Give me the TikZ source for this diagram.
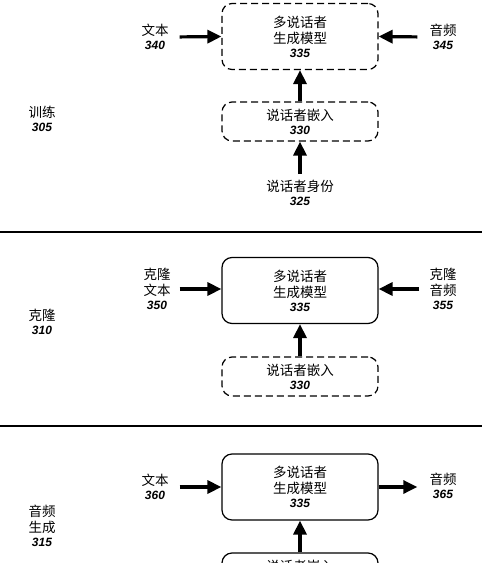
\documentclass[tikz,border=0pt]{standalone}
\usepackage{fontspec}
\setmainfont{Liberation Sans}
\newfontfamily\cjk{Noto Sans CJK SC}
\usetikzlibrary{arrows.meta}
\newcommand{\refnum}[1]{{\rmfamily\fontsize{12}{13}\selectfont\bfseries\itshape #1}}
\begin{document}
\begin{tikzpicture}[x=1pt,y=-1pt,
  font=\cjk\fontsize{13.5}{16}\selectfont,
  box/.style={draw,line width=1.2pt,rounded corners=10pt,minimum width=156pt,align=center,inner sep=2pt},
  model/.style={box,minimum height=66pt},
  emb/.style={box,minimum height=39pt},
  dashbox/.style={dash pattern=on 7pt off 4pt},
  lbl/.style={align=center,inner sep=3pt},
  arr/.style={line width=3.2pt,-{Triangle[length=14pt,width=13pt]}},
  sep/.style={line width=2pt}]
\useasboundingbox (0,0) rectangle (500,563);
\clip (0,0) rectangle (500,563);
% training
\node[model,dashbox] (m1) at (300,36.5) {多说话者\\生成模型\\[-2pt]\refnum{335}};
\node[emb,dashbox] (e1) at (300,121.5) {说话者嵌入\\[-2pt]\refnum{330}};
\node[lbl] (t340) at (155,37) {文本\\[-2pt]\refnum{340}};
\node[lbl] (a345) at (443,37) {音频\\[-2pt]\refnum{345}};
\node[lbl] (id325) at (300,193) {说话者身份\\[-2pt]\refnum{325}};
\node[lbl] (s305) at (42,119) {训练\\[-2pt]\refnum{305}};
\draw[arr,shorten <=8pt] (t340.east) -- (m1.west);
\draw[arr,shorten <=9pt] (a345.west) -- (m1.east);
\draw[arr] (e1.north) -- (m1.south);
\draw[arr,shorten <=3pt] (id325.north) -- (e1.south);
\draw[sep] (0,232) -- (482,232);
% cloning
\node[model] (m2) at (300,290.5) {多说话者\\生成模型\\[-2pt]\refnum{335}};
\node[emb,dashbox] (e2) at (300,376.5) {说话者嵌入\\[-2pt]\refnum{330}};
\node[lbl] (t350) at (157,289) {克隆\\文本\\[-2pt]\refnum{350}};
\node[lbl] (a355) at (443,289) {克隆\\音频\\[-2pt]\refnum{355}};
\node[lbl] (s310) at (42,322) {克隆\\[-2pt]\refnum{310}};
\draw[arr,shorten <=6pt] (t350.east) -- (t350.east -| m2.west);
\draw[arr,shorten <=7pt] (a355.west) -- (a355.west -| m2.east);
\draw[arr] (e2.north) -- (m2.south);
\draw[sep] (0,426) -- (482,426);
% audio generation
\node[model] (m3) at (300,487) {多说话者\\生成模型\\[-2pt]\refnum{335}};
\node[emb] (e3) at (300,572.5) {说话者嵌入\\[-2pt]\refnum{330}};
\node[lbl] (t360) at (155,487) {文本\\[-2pt]\refnum{360}};
\node[lbl] (a365) at (443,486) {音频\\[-2pt]\refnum{365}};
\node[lbl] (s315) at (42,526) {音频\\生成\\[-2pt]\refnum{315}};
\draw[arr,shorten <=8pt] (t360.east) -- (m3.west);
\draw[arr,shorten >=9pt] (m3.east) -- (a365.west |- m3.east);
\draw[arr] (e3.north) -- (m3.south);
\end{tikzpicture}
\end{document}
